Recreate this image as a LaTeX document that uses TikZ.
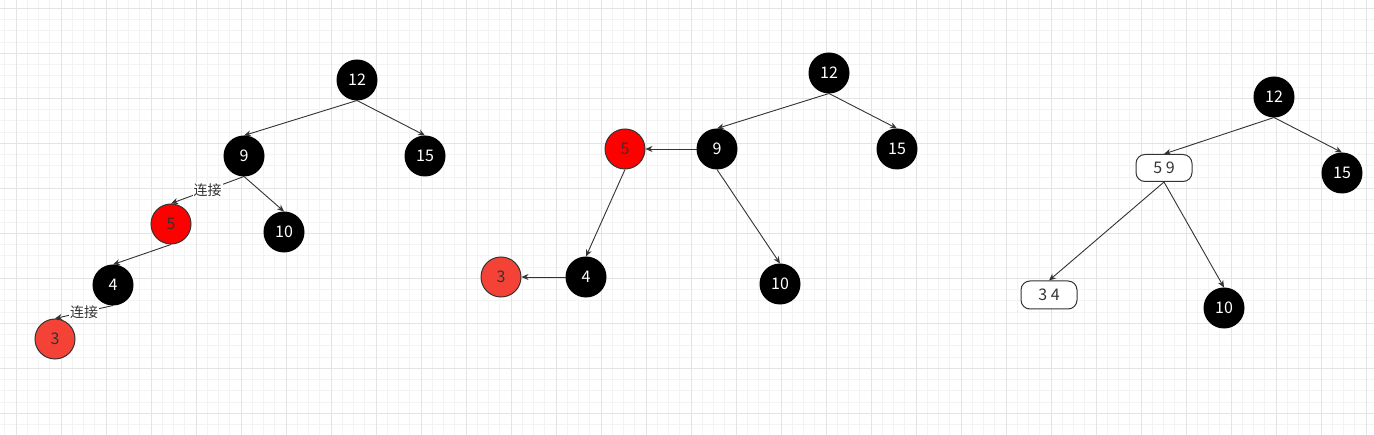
\documentclass[tikz,border=0pt]{standalone}
\usepackage{xcolor}
\usepackage{fontspec}
\usepackage{tikz}
\usetikzlibrary{arrows.meta}
\setmainfont{Noto Sans CJK SC}
\definecolor{edgegray}{HTML}{333333}
\definecolor{tomato}{HTML}{F44336}
\definecolor{gridminor}{HTML}{F3F3F3}
\definecolor{gridmajor}{HTML}{E4E4E4}

\begin{document}
\begin{tikzpicture}[
  x=1pt, y=-1pt,
  blk/.style={circle, draw=black, fill=black, line width=1pt, minimum size=40pt, inner sep=0pt, text=white, font=\fontsize{16}{19}\selectfont},
  redn/.style={blk, draw=edgegray, fill=red, text=edgegray},
  tomn/.style={blk, draw=edgegray, fill=tomato, text=edgegray},
  pair/.style={draw=edgegray, fill=white, line width=1pt, rounded corners=9pt, minimum width=56pt, minimum height=27pt, inner sep=0pt, text=edgegray, font=\fontsize{16}{19}\selectfont},
  arr/.style={-{Stealth[length=7pt,width=6pt]}, draw=edgegray, line width=0.9pt},
  lbl/.style={fill=white, inner sep=1pt, text=edgegray, font=\fontsize{14}{16}\selectfont}
]
\useasboundingbox (0,0) rectangle (1374,435);
\fill[white] (0,0) rectangle (1374,435);

% grid
\foreach \k in {-1,...,121}
  \draw[gridminor, line width=1pt] ({16+11.25*\k},0) -- ++(0,435);
\foreach \k in {0,...,38}
  \draw[gridminor, line width=1pt] (0,{8.3+11.25*\k}) -- ++(1374,0);
\foreach \k in {0,...,30}
  \draw[gridmajor, line width=1pt] ({16+45*\k},0) -- ++(0,435);
\foreach \k in {0,...,9}
  \draw[gridmajor, line width=1pt] (0,{8.3+45*\k}) -- ++(1374,0);

% first tree
\node[blk] (a12) at (357,80) {12};
\node[blk] (a9) at (244,156) {9};
\node[blk] (a15) at (425,156) {15};
\node[redn] (a5) at (171,224) {5};
\node[blk] (a10) at (284,232) {10};
\node[blk] (a4) at (113,285) {4};
\node[tomn] (a3) at (55,339) {3};

\draw[arr] (a12.south) -- (a9.north);
\draw[arr] (a12.south) -- (a15.north);
\draw[arr] (a9.south) -- node[lbl] {连接} (a5.north);
\draw[arr] (a9.south) -- (a10.north);
\draw[arr] (a5.south) -- (a4.north);
\draw[arr] (a4.south) -- node[lbl] {连接} (a3.north);

% second tree
\node[blk] (b12) at (829,73) {12};
\node[blk] (b9) at (717,149) {9};
\node[blk] (b15) at (897,149) {15};
\node[redn] (b5) at (625,149) {5};
\node[blk] (b4) at (586,277) {4};
\node[tomn] (b3) at (501,277) {3};
\node[blk] (b10) at (780,284) {10};

\draw[arr] (b12.south) -- (b9.north);
\draw[arr] (b12.south) -- (b15.north);
\draw[arr] (b9.west) -- (b5.east);
\draw[arr] (b5.south) -- (b4.north);
\draw[arr] (b9.south) -- (b10.north);
\draw[arr] (b4.west) -- (b3.east);

% third tree
\node[blk] (c12) at (1274,97) {12};
\node[blk] (c15) at (1342,173) {15};
\node[pair] (c59) at (1164,168) {5 9};
\node[pair, minimum height=28pt] (c34) at (1049,295) {3 4};
\node[blk] (c10) at (1224,308) {10};

\draw[arr] (c12.south) -- (c59.north);
\draw[arr] (c12.south) -- (c15.north);
\draw[arr] (c59.south) -- (c34.north);
\draw[arr] (c59.south) -- (c10.north);
\end{tikzpicture}
\end{document}
